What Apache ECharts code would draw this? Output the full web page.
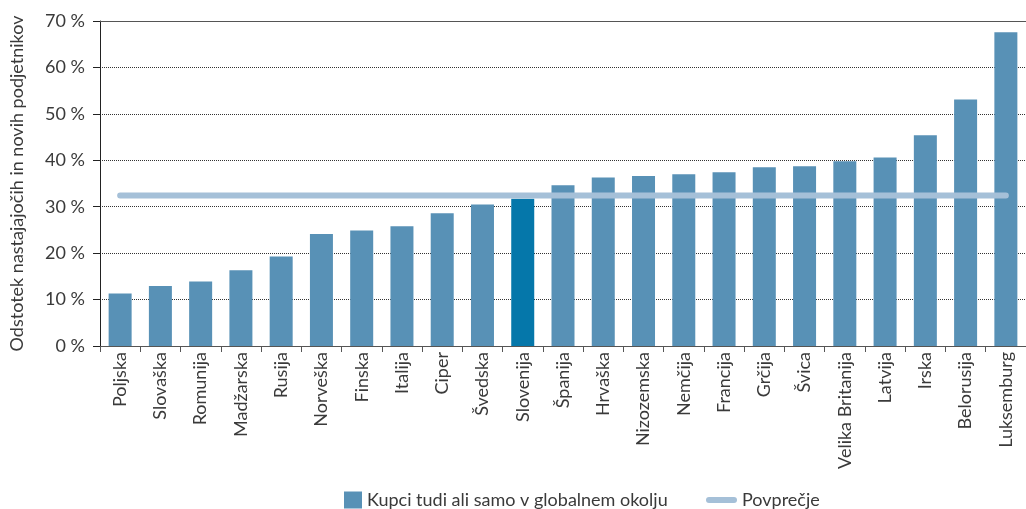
<!DOCTYPE html>
<html>
<head>
<meta charset="utf-8">
<script src="https://cdn.jsdelivr.net/npm/echarts@6/dist/echarts.min.js"></script>
<style>
  html, body { margin: 0; padding: 0; background: #fff; }
  #chart { width: 1026px; height: 509px; }
</style>
</head>
<body>
<div id="chart"></div>
<script>
// podatki
var countries = ['Poljska', 'Slovaška', 'Romunija', 'Madžarska', 'Rusija', 'Norveška', 'Finska', 'Italija', 'Ciper', 'Švedska', 'Slovenija', 'Španija', 'Hrvaška', 'Nizozemska', 'Nemčija', 'Francija', 'Grčija', 'Švica', 'Velika Britanija', 'Latvija', 'Irska', 'Belorusija', 'Luksemburg'];
var buyers = [11.3, 12.9, 13.9, 16.3, 19.3, 24.1, 24.9, 25.8, 28.6, 30.5, 31.7, 34.6, 36.3, 36.6, 37.0, 37.4, 38.5, 38.7, 39.8, 40.6, 45.4, 53.1, 67.6];
var average = 32.4;
var highlight = 'Slovenija';

var fontName = 'Lato';
var textColor = '#3a3a3a';

window.onload = function () {
  drawChart();
};

function drawChart() {
  var myChart = echarts.init(document.getElementById('chart'));

  var barData = countries.map(function (c, i) {
    var item = { value: buyers[i] };
    if (c === highlight) item.itemStyle = { color: '#0577aa' };
    return item;
  });
  var avgData = countries.map(function () { return average; });

  var legendText = { fontFamily: fontName, fontSize: 18, color: textColor };

  var option = {
    animation: false,
    textStyle: { fontFamily: fontName },
    grid: { left: 100, right: 0, top: 21, bottom: 163, containLabel: false, outerBoundsMode: 'none' },
    // dve legendi, ker imata ikoni različno velikost
    legend: [{
      top: 486,
      left: 339,
      itemWidth: 18,
      itemHeight: 17,
      textStyle: legendText,
      data: [{ name: 'Kupci tudi ali samo v globalnem okolju', icon: 'rect' }]
    }, {
      top: 486,
      left: 701,
      itemWidth: 31,
      itemHeight: 6,
      textStyle: legendText,
      data: [{ name: 'Povprečje', icon: 'path://M3,0 L28,0 A3,3 0 0 1 28,6 L3,6 A3,3 0 0 1 3,0 Z' }]
    }],
    xAxis: [{
      type: 'category',
      data: countries,
      axisLine: { lineStyle: { color: '#555', width: 1 } },
      axisTick: { show: true, length: 6, lineStyle: { color: '#555' } },
      axisLabel: {
        rotate: 90,
        interval: 0,
        margin: 6,
        fontSize: 18,
        fontFamily: fontName,
        color: textColor
      }
    }, {
      type: 'category',
      position: 'top',
      data: countries,
      axisLine: { show: true, lineStyle: { color: '#555', width: 1 } },
      axisTick: { show: false },
      axisLabel: { show: false }
    }],
    yAxis: {
      type: 'value',
      min: 0,
      max: 70,
      interval: 10,
      name: 'Odstotek nastajajočih in novih podjetnikov',
      nameLocation: 'middle',
      nameGap: 74,
      nameTextStyle: { fontSize: 18, fontFamily: fontName, color: textColor },
      axisLine: { show: true, lineStyle: { color: '#222' } },
      axisTick: { show: true, length: 7, lineStyle: { color: '#222' } },
      axisLabel: {
        formatter: '{value} %',
        fontSize: 18,
        fontFamily: fontName,
        color: textColor,
        margin: 15
      },
      splitLine: { lineStyle: { type: 'dotted', color: '#333', width: 1 } }
    },
    series: [{
      name: 'Kupci tudi ali samo v globalnem okolju',
      type: 'bar',
      data: barData,
      barWidth: 23,
      itemStyle: { color: '#5891b6' }
    }, {
      name: 'Povprečje',
      type: 'line',
      data: avgData,
      symbol: 'none',
      z: 5,
      lineStyle: { color: '#a5c0d8', width: 6, cap: 'round' },
      itemStyle: { color: '#a5c0d8' }
    }]
  };

  myChart.setOption(option);
}
</script>
</body>
</html>
